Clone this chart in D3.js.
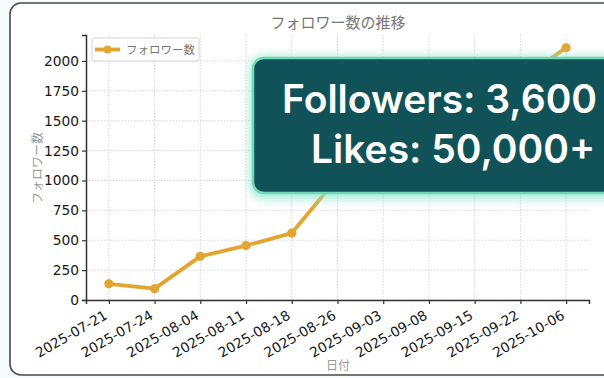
<!DOCTYPE html>
<html>
<head>
<meta charset="utf-8">
<script src="https://d3js.org/d3.v7.min.js"></script>
<style>
    body { margin: 0; background: #f4fbfa; }
    .tick text { font-family: "DejaVu Sans", sans-serif; font-size: 13.8px; fill: #1a1a1a; }
    .jp { font-family: "Noto Sans CJK JP", sans-serif; fill: #777; }
</style>
</head>
<body>
<svg id="chart"></svg>
<script>
    // values (the middle ones sit behind the overlay box, estimated)
    let dates = ['2025-07-21','2025-07-24','2025-08-04','2025-08-11','2025-08-18','2025-08-26',
                 '2025-09-03','2025-09-08','2025-09-15','2025-09-22','2025-10-06'];
    let followers = [135, 95, 365, 455, 560, 1020, 1280, 1450, 1640, 1840, 2110];
    let yTicks = [0, 250, 500, 750, 1000, 1250, 1500, 1750, 2000];
    let overlayLines = ['Followers: 3,600', 'Likes: 50,000+'];

    let width = 604, height = 378;
    let margin = {top: 35, bottom: 78, left: 86, right: 15};

    let svg = d3.select('#chart').attr('width', width).attr('height', height);

    // outer frame
    svg.append('rect')
        .attr('x', 10).attr('y', 3)
        .attr('width', 620).attr('height', 372)
        .attr('rx', 11)
        .attr('fill', '#fff')
        .attr('stroke', '#4a4a4a')
        .attr('stroke-width', 1.6);

    let xScale = d3.scalePoint()
        .domain(dates)
        .range([margin.left, width - margin.right])
        .padding(0.5);

    let yScale = d3.scaleLinear()
        .domain([0, 2217])
        .range([height - margin.bottom, margin.top]);

    // grid
    let grid = svg.append('g');
    grid.selectAll('.vg').data(dates).enter().append('line')
        .attr('x1', d => xScale(d)).attr('x2', d => xScale(d))
        .attr('y1', yScale.range()[1]).attr('y2', yScale.range()[0])
        .attr('stroke', '#ccc').attr('stroke-dasharray', '1.5,1.5').attr('stroke-width', 0.8);
    grid.selectAll('.hg').data(yTicks).enter().append('line')
        .attr('x1', margin.left).attr('x2', width - margin.right)
        .attr('y1', d => yScale(d)).attr('y2', d => yScale(d))
        .attr('stroke', '#ccc').attr('stroke-dasharray', '1.5,1.5').attr('stroke-width', 0.8);

    // axes
    let axisX = d3.axisBottom(xScale).tickSizeOuter(0).tickSize(4);
    let gx = svg.append('g')
        .attr('transform', `translate(0,${height - margin.bottom})`)
        .call(axisX);
    gx.selectAll('.tick text')
        .attr('text-anchor', 'end')
        .attr('x', 0).attr('y', 0).attr('dy', 0)
        .attr('transform', 'translate(-1,18) rotate(-30)');

    let axisY = d3.axisLeft(yScale).tickValues(yTicks).tickFormat(d3.format('d'))
        .tickSizeOuter(0).tickSize(4).tickPadding(3);
    svg.append('g')
        .attr('transform', `translate(${margin.left},0)`)
        .call(axisY);

    svg.selectAll('.domain').attr('stroke', '#333').attr('stroke-width', 1.5);
    svg.selectAll('.tick line').attr('stroke', '#333').attr('stroke-width', 1.2);

    // line + markers
    let line = d3.line()
        .x((d, i) => xScale(dates[i]))
        .y(d => yScale(d));

    svg.append('path')
        .datum(followers)
        .attr('d', line)
        .attr('fill', 'none')
        .attr('stroke', '#e2a532')
        .attr('stroke-width', 3.8)
        .attr('stroke-linejoin', 'round');

    svg.selectAll('.dot').data(followers).enter().append('circle')
        .attr('cx', (d, i) => xScale(dates[i]))
        .attr('cy', d => yScale(d))
        .attr('r', 4.6)
        .attr('fill', '#e2a532');

    // texts
    svg.append('text').attr('class', 'jp')
        .attr('x', 338).attr('y', 28)
        .attr('text-anchor', 'middle')
        .style('font-size', '15px')
        .text('フォロワー数の推移');

    svg.append('text').attr('class', 'jp')
        .attr('transform', 'translate(42,168) rotate(-90)')
        .attr('text-anchor', 'middle')
        .style('font-size', '12px')
        .style('fill', '#999')
        .text('フォロワー数');

    svg.append('text').attr('class', 'jp')
        .attr('x', 338).attr('y', 370)
        .attr('text-anchor', 'middle')
        .style('font-size', '12px')
        .style('fill', '#999')
        .text('日付');

    // legend
    let lg = svg.append('g');
    lg.append('rect')
        .attr('x', 92).attr('y', 38).attr('width', 107).attr('height', 23)
        .attr('fill', '#fff').attr('stroke', '#d4d4d4').attr('rx', 2);
    lg.append('line')
        .attr('x1', 95).attr('x2', 120).attr('y1', 49.5).attr('y2', 49.5)
        .attr('stroke', '#e2a532').attr('stroke-width', 3.8);
    lg.append('circle').attr('cx', 107.5).attr('cy', 49.5).attr('r', 4).attr('fill', '#e2a532');
    lg.append('text').attr('class', 'jp')
        .attr('x', 126).attr('y', 54)
        .style('font-size', '11.5px')
        .text('フォロワー数');

    // overlay box
    let defs = svg.append('defs');
    let f = defs.append('filter').attr('id', 'glow')
        .attr('x', '-20%').attr('y', '-30%').attr('width', '140%').attr('height', '160%');
    f.append('feGaussianBlur').attr('stdDeviation', 5);

    svg.append('rect')
        .attr('x', 250).attr('y', 56).attr('width', 380).attr('height', 143)
        .attr('rx', 12)
        .attr('fill', '#8fe6cc')
        .attr('opacity', 0.8)
        .attr('filter', 'url(#glow)');

    svg.append('rect')
        .attr('x', 253).attr('y', 58).attr('width', 380).attr('height', 135)
        .attr('rx', 11)
        .attr('fill', '#105258')
        .attr('stroke', '#6fd8b6')
        .attr('stroke-width', 2.5);

    // the reference crops the first line at the right edge too
    svg.selectAll('.ov').data(overlayLines).enter().append('text')
        .attr('x', (d, i) => i === 0 ? 282 : 311)
        .attr('y', (d, i) => 113 + i * 50)
        .attr('fill', '#fff')
        .style('font-family', 'Inter, "Liberation Sans", sans-serif')
        .style('font-weight', 600)
        .style('font-size', '39px')
        .text(d => d);
</script>
</body>
</html>
